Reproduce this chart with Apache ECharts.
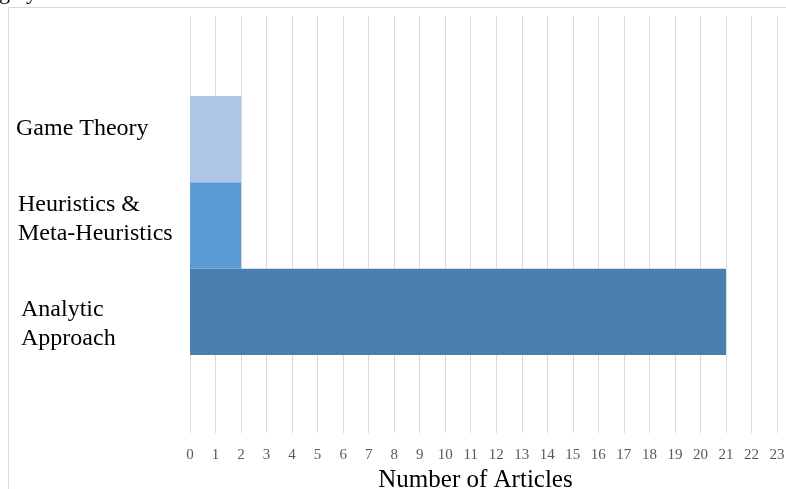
<!DOCTYPE html>
<html>
<head>
<meta charset="utf-8">
<script src="https://cdn.jsdelivr.net/npm/echarts@6/dist/echarts.min.js"></script>
<style>
  html, body { margin: 0; padding: 0; background: #fff; }
  #chart { width: 786px; height: 489px; }
</style>
</head>
<body>
<div id="chart"></div>
<script>
// Article counts per method category (bottom to top)
const categories = ['Analytic\nApproach', 'Heuristics &\nMeta-Heuristics', 'Game Theory'];
const articleCounts = [21, 2, 2];
const barColors = ['#4a7eaf', '#5b9bd5', '#aec6e5'];
const axisMin = 0;
const axisMax = 23;

// vertical nudges and left edges for the category captions
const captionNudgeY = [12, -6, -10];
const captionX = [21, 18, 16];

const serif = '"Liberation Serif", "Times New Roman", serif';
const chart = echarts.init(document.getElementById('chart'), null, { renderer: 'canvas' });

const option = {
  animation: false,
  backgroundColor: '#fff',
  grid: [
    { left: 190, right: 9, top: 16, bottom: 56, outerBoundsMode: 'none', containLabel: false },
    { left: 190, right: 9, top: 96, height: 259, outerBoundsMode: 'none', containLabel: false }
  ],
  xAxis: [
    {
      gridIndex: 0, type: 'value', min: axisMin, max: axisMax, interval: 1,
      axisLine: { show: false }, axisTick: { show: false },
      splitLine: { show: true, lineStyle: { color: '#d9d9d9', width: 1 } },
      axisLabel: { color: '#595959', fontFamily: serif, fontSize: 15, margin: 15 },
      name: 'Number of Articles', nameLocation: 'middle', nameGap: 33,
      nameTextStyle: { color: '#000', fontFamily: serif, fontSize: 25, padding: [0, 16, 0, 0] }
    },
    {
      gridIndex: 1, type: 'value', min: axisMin, max: axisMax,
      show: false, splitLine: { show: false }
    }
  ],
  yAxis: [
    { gridIndex: 0, type: 'category', data: categories, show: false },
    {
      gridIndex: 1, type: 'category', data: categories,
      axisLine: { show: false }, axisTick: { show: false }, axisLabel: { show: false },
      splitLine: { show: false }
    }
  ],
  series: [{
    type: 'bar',
    xAxisIndex: 1,
    yAxisIndex: 1,
    barCategoryGap: 0,
    data: articleCounts.map((v, i) => ({
      value: v,
      itemStyle: { color: barColors[i] }
    }))
  }]
};

chart.setOption(option);

// Category captions, left-aligned near the page edge and placed from the axis scale
const captions = categories.map((c, i) => {
  const y = chart.convertToPixel({ yAxisIndex: 1 }, c);
  return {
    type: 'text',
    style: {
      text: c, x: captionX[i], y: y + captionNudgeY[i],
      font: '24px ' + serif, fill: '#000',
      textAlign: 'left', textVerticalAlign: 'middle', lineHeight: 29
    }
  };
});

chart.setOption({
  graphic: [
    // frame of the figure box
    { type: 'line', shape: { x1: 8, y1: 7.5, x2: 786, y2: 7.5 }, style: { stroke: '#d9d9d9', lineWidth: 1 } },
    { type: 'line', shape: { x1: 8.5, y1: 7, x2: 8.5, y2: 489 }, style: { stroke: '#d9d9d9', lineWidth: 1 } },
    // tail of the preceding sentence
    { type: 'text', style: { text: 'gely.', x: -1, y: -7, font: '22px ' + serif, fill: '#000', textAlign: 'left', textVerticalAlign: 'middle' } }
  ].concat(captions)
});
</script>
</body>
</html>
